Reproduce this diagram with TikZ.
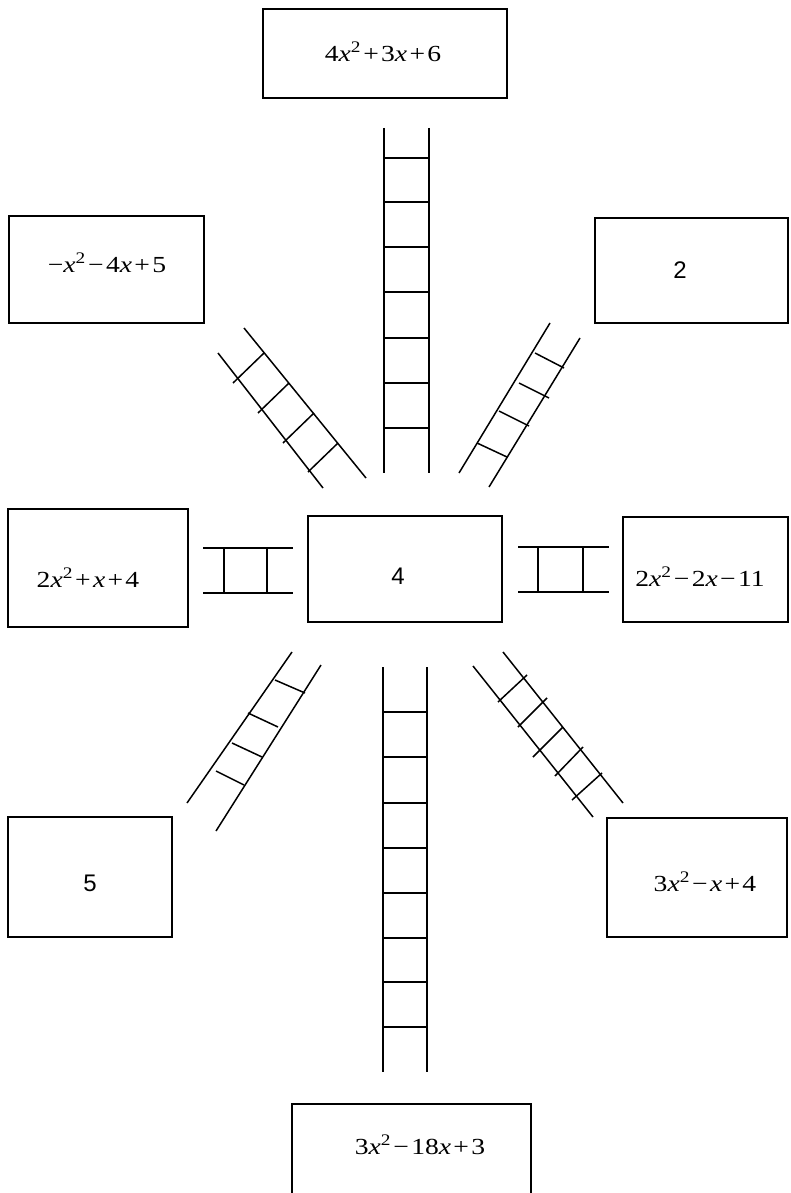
\documentclass[tikz,border=0pt]{standalone}
\usepackage{fontspec}
\newfontfamily\mserif[FakeStretch=1.2]{Liberation Serif}
\newfontfamily\nsans{Liberation Sans}
\newcommand{\vx}{\textit{x}}
\newcommand{\sq}{\textsuperscript{2}}
\newcommand{\pl}{\hspace{0.1em}+\hspace{0.1em}}
\newcommand{\mi}{\hspace{0.1em}\char"2212\hspace{0.1em}}
\tikzset{
  box/.style={draw, line width=1.4pt, inner sep=0pt, rectangle},
  mtext/.style={inner sep=0pt, font=\mserif\fontsize{23}{27}\selectfont},
  ntext/.style={inner sep=0pt, font=\nsans\fontsize{24}{28}\selectfont},
  rail/.style={line width=1.5pt},
  rung/.style={line width=1.5pt}
}
\begin{document}
\begin{tikzpicture}[x=1pt,y=-1pt]
\useasboundingbox (0,0) rectangle (790,1193);
% boxes
\node[box, minimum width=244pt, minimum height=89pt] (top) at (385,53.5) {};
\node[box, minimum width=195pt, minimum height=107pt] (tl) at (106.5,269.5) {};
\node[box, minimum width=193pt, minimum height=105pt] (tr) at (691.5,270.5) {};
\node[box, minimum width=180pt, minimum height=118pt] (ml) at (98,568) {};
\node[box, minimum width=194pt, minimum height=106pt] (c) at (405,569) {};
\node[box, minimum width=165pt, minimum height=105pt] (mr) at (705.5,569.5) {};
\node[box, minimum width=164pt, minimum height=120pt] (bl) at (90,877) {};
\node[box, minimum width=180pt, minimum height=119pt] (br) at (697,877.5) {};
\node[box, minimum width=239pt, minimum height=96pt] (bot) at (411.5,1152) {};
% texts
\node[mtext] (topt) at (383,52) {4\vx\sq\pl3\vx\pl6};
\node[mtext] (tlt) at (107,263) {\char"2212\vx\sq\mi4\vx\pl5};
\node[ntext] (trt) at (680,270) {2};
\node[mtext] (mlt) at (88,578) {2\vx\sq\pl\vx\pl4};
\node[ntext] (ct) at (398,576) {4};
\node[mtext] (mrt) at (700,577) {2\vx\sq\mi2\vx\mi11};
\node[ntext] (blt) at (90,883) {5};
\node[mtext] (brt) at (705,882) {3\vx\sq\mi\vx\pl4};
\node[mtext] (bott) at (420,1145) {3\vx\sq\mi18\vx\pl3};
% top vertical ladder
\draw[rail] (384,128) -- (384,473);
\draw[rail] (429,128) -- (429,473);
\foreach \y in {158,202,247,292,338,383,428}
  \draw[rung] (384,\y) -- (429,\y);
% bottom vertical ladder
\draw[rail] (383,667) -- (383,1072);
\draw[rail] (427,667) -- (427,1072);
\foreach \y in {712,757,803,848,893,938,982,1027}
  \draw[rung] (383,\y) -- (427,\y);
% left horizontal ladder
\draw[rail] (203,548) -- (293,548);
\draw[rail] (203,593) -- (293,593);
\foreach \x in {224,267}
  \draw[rung] (\x,548) -- (\x,593);
% right horizontal ladder
\draw[rail] (518,547) -- (609,547);
\draw[rail] (518,592) -- (609,592);
\foreach \x in {538,583}
  \draw[rung] (\x,547) -- (\x,592);
% top-left diagonal ladder
\draw[rail] (218,353) -- (323,488);
\draw[rail] (244,328) -- (366,478);
\draw[rung] (233,383) -- (264,353);
\draw[rung] (258,413) -- (289,383);
\draw[rung] (283,443) -- (314,413);
\draw[rung] (308,472) -- (338,443);
% top-right diagonal ladder
\draw[rail] (459,473) -- (550,323);
\draw[rail] (489,487) -- (580,338);
\draw[rung] (535,353) -- (564,368);
\draw[rung] (519,383) -- (549,398);
\draw[rung] (499,411) -- (529,426);
\draw[rung] (477,443) -- (507,457);
% bottom-left diagonal ladder
\draw[rail] (292,652) -- (187,803);
\draw[rail] (321,665) -- (216,831);
\draw[rung] (275,680) -- (305,693);
\draw[rung] (248,713) -- (278,727);
\draw[rung] (232,743) -- (262,757);
\draw[rung] (216,771) -- (244,785);
% bottom-right diagonal ladder
\draw[rail] (473,666) -- (593,817);
\draw[rail] (503,652) -- (623,803);
\draw[rung] (498,702) -- (527,675);
\draw[rung] (518,727) -- (547,698);
\draw[rung] (533,757) -- (563,727);
\draw[rung] (555,776) -- (583,747);
\draw[rung] (572,800) -- (602,773);
\end{tikzpicture}
\end{document}
